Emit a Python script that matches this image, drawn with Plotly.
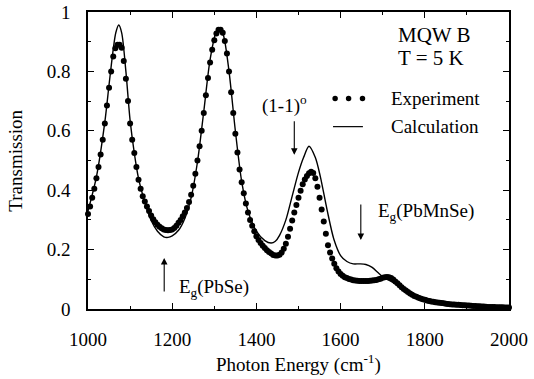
import plotly.graph_objects as go

# ---------------- data ----------------
exp_x = [1000, 1005, 1010, 1015, 1020, 1025, 1030, 1035, 1040, 1045,
         1050, 1055, 1060, 1065, 1070, 1075, 1080, 1085, 1090, 1095,
         1100, 1105, 1110, 1115, 1120, 1125, 1130, 1135, 1140, 1145,
         1150, 1155, 1160, 1165, 1170, 1175, 1180, 1185, 1190, 1195,
         1200, 1205, 1210, 1215, 1220, 1225, 1230, 1235, 1240, 1245,
         1250, 1255, 1260, 1265, 1270, 1275, 1280, 1285, 1290, 1295,
         1300, 1305, 1310, 1315, 1320, 1325, 1330, 1335, 1340, 1345,
         1350, 1355, 1360, 1365, 1370, 1375, 1380, 1385, 1390, 1395,
         1400, 1405, 1410, 1415, 1420, 1425, 1430, 1435, 1440, 1445,
         1450, 1455, 1460, 1465, 1470, 1475, 1480, 1485, 1490, 1495,
         1500, 1505, 1510, 1515, 1520, 1525, 1530, 1535, 1540, 1545,
         1550, 1555, 1560, 1565, 1570, 1575, 1580, 1585, 1590, 1595,
         1600, 1605, 1610, 1615, 1620, 1625, 1630, 1635, 1640, 1645,
         1650, 1655, 1660, 1665, 1670, 1675, 1680, 1685, 1690, 1695,
         1700, 1705, 1710, 1715, 1720, 1725, 1730, 1735, 1740, 1745,
         1750, 1755, 1760, 1765, 1770, 1775, 1780, 1785, 1790, 1795,
         1800, 1805, 1810, 1815, 1820, 1825, 1830, 1835, 1840, 1845,
         1850, 1855, 1860, 1865, 1870, 1875, 1880, 1885, 1890, 1895,
         1900, 1905, 1910, 1915, 1920, 1925, 1930, 1935, 1940, 1945,
         1950, 1955, 1960, 1965, 1970, 1975, 1980, 1985, 1990, 1995,
         2000]
exp_y = [0.320, 0.345, 0.375, 0.405, 0.440, 0.478, 0.520, 0.570, 0.625, 0.685,
         0.745, 0.800, 0.850, 0.878, 0.890, 0.890, 0.880, 0.835, 0.775, 0.700,
         0.625, 0.570, 0.525, 0.478, 0.435, 0.405, 0.380, 0.362, 0.345, 0.330,
         0.315, 0.302, 0.292, 0.284, 0.277, 0.272, 0.268, 0.266, 0.265, 0.266,
         0.268, 0.273, 0.280, 0.290, 0.300, 0.312, 0.325, 0.340, 0.360, 0.385,
         0.415, 0.455, 0.500, 0.548, 0.600, 0.660, 0.720, 0.778, 0.830, 0.873,
         0.905, 0.928, 0.940, 0.940, 0.930, 0.902, 0.860, 0.800, 0.730, 0.660,
         0.590, 0.527, 0.470, 0.427, 0.390, 0.355, 0.325, 0.300, 0.280, 0.262,
         0.245, 0.232, 0.222, 0.213, 0.205, 0.198, 0.192, 0.187, 0.182, 0.180,
         0.180, 0.183, 0.190, 0.203, 0.220, 0.243, 0.270, 0.298, 0.325, 0.350,
         0.375, 0.398, 0.420, 0.436, 0.448, 0.457, 0.462, 0.458, 0.440, 0.412,
         0.375, 0.335, 0.295, 0.253, 0.215, 0.190, 0.170, 0.152, 0.137, 0.126,
         0.118, 0.112, 0.107, 0.104, 0.101, 0.099, 0.097, 0.096, 0.095, 0.094,
         0.094, 0.094, 0.094, 0.094, 0.095, 0.096, 0.097, 0.098, 0.100, 0.102,
         0.105, 0.107, 0.108, 0.107, 0.104, 0.099, 0.093, 0.087, 0.080, 0.073,
         0.067, 0.062, 0.057, 0.052, 0.048, 0.044, 0.041, 0.038, 0.035, 0.033,
         0.031, 0.029, 0.027, 0.025, 0.024, 0.023, 0.022, 0.021, 0.020, 0.019,
         0.018, 0.017, 0.016, 0.0155, 0.015, 0.0145, 0.014, 0.0135, 0.013, 0.0125,
         0.012, 0.0115, 0.011, 0.0105, 0.010, 0.0095, 0.009, 0.0085, 0.008, 0.0075,
         0.007, 0.007, 0.007, 0.0065, 0.006, 0.006, 0.006, 0.0055, 0.005, 0.005,
         0.005]

calc_x = [1000, 1020, 1040, 1050, 1060, 1066, 1073, 1080, 1090, 1100,
          1110, 1120, 1135, 1150, 1165, 1180, 1190, 1200, 1215, 1230,
          1245, 1260, 1275, 1290, 1305, 1313, 1322, 1335, 1350, 1365,
          1380, 1400, 1420, 1435, 1445, 1455, 1470, 1485, 1500, 1512,
          1525, 1540, 1552, 1568, 1584, 1600, 1615, 1630, 1645, 1660,
          1675, 1690, 1705, 1720, 1740, 1760, 1780, 1800, 1830, 1860,
          1900, 1950, 2000]
calc_y = [0.330, 0.445, 0.630, 0.755, 0.875, 0.930, 0.956, 0.930, 0.800, 0.635,
          0.525, 0.440, 0.360, 0.298, 0.262, 0.243, 0.241, 0.246, 0.265, 0.305,
          0.375, 0.495, 0.665, 0.840, 0.935, 0.945, 0.920, 0.800, 0.600, 0.430,
          0.330, 0.262, 0.230, 0.222, 0.228, 0.248, 0.300, 0.380, 0.460, 0.510,
          0.548, 0.510, 0.445, 0.333, 0.235, 0.180, 0.160, 0.152, 0.152, 0.150,
          0.140, 0.121, 0.104, 0.093, 0.077, 0.060, 0.047, 0.037, 0.027, 0.019,
          0.013, 0.008, 0.005]

x_ticks = [1000, 1200, 1400, 1600, 1800, 2000]
x_minor = [1100, 1300, 1500, 1700, 1900]
y_ticks = [0, 0.2, 0.4, 0.6, 0.8, 1.0]
y_ticktext = ["0", "0.2", "0.4", "0.6", "0.8", "1"]
y_minor = [0.1, 0.3, 0.5, 0.7, 0.9]

FONT = "Times New Roman, Liberation Serif, serif"
FS = 19

fig = go.Figure()
fig.add_trace(go.Scatter(x=calc_x, y=calc_y, mode="lines",
                         line=dict(color="black", width=1.4, shape="spline", smoothing=0.8),
                         name="Calculation", showlegend=False))
fig.add_trace(go.Scatter(x=exp_x, y=exp_y, mode="markers",
                         marker=dict(color="black", size=6),
                         cliponaxis=False,
                         name="Experiment", showlegend=False))

axis_common = dict(showline=True, linecolor="black", linewidth=1.5, mirror="ticks",
                   ticks="inside", ticklen=6, tickwidth=1.2, tickcolor="black",
                   showgrid=False, zeroline=False, automargin=False,
                   tickfont=dict(family=FONT, size=FS, color="black"))

fig.update_xaxes(range=[1000, 2000], tickmode="array", tickvals=x_ticks,
                 minor=dict(tickmode="array", tickvals=x_minor, ticks="inside",
                            ticklen=3, tickcolor="black", tickwidth=1),
                 ticklabelstandoff=12, **axis_common)
fig.update_yaxes(range=[0, 1], tickmode="array", tickvals=y_ticks, ticktext=y_ticktext,
                 minor=dict(tickmode="array", tickvals=y_minor, ticks="inside",
                            ticklen=3, tickcolor="black", tickwidth=1),
                 ticklabelstandoff=12, **axis_common)

tf = dict(family=FONT, size=FS, color="black")
tf_big = dict(family=FONT, size=21, color="black")
ann = []
# axis titles
ann.append(dict(text="Photon Energy (cm<sup>-1</sup>)", xref="paper", yref="paper",
                x=0.5, y=-0.185, xanchor="center", yanchor="middle", showarrow=False, font=tf))
ann.append(dict(text="Transmission", xref="paper", yref="paper", textangle=-90,
                x=-0.173, y=0.5, xanchor="center", yanchor="middle", showarrow=False, font=tf))
# labels
ann.append(dict(text="MQW B", xref="paper", yref="paper", x=0.823, y=0.923,
                xanchor="center", yanchor="middle", showarrow=False, font=tf_big))
ann.append(dict(text="T = 5 K", xref="paper", yref="paper", x=0.815, y=0.844,
                xanchor="center", yanchor="middle", showarrow=False, font=tf_big))
ann.append(dict(text="(1-1)<sup>o</sup>", xref="paper", yref="paper", x=0.466, y=0.69,
                xanchor="center", yanchor="middle", showarrow=False, font=tf))
ann.append(dict(text="Experiment", xref="paper", yref="paper", x=0.715, y=0.709,
                xanchor="left", yanchor="middle", showarrow=False, font=tf))
ann.append(dict(text="Calculation", xref="paper", yref="paper", x=0.715, y=0.614,
                xanchor="left", yanchor="middle", showarrow=False, font=tf))
ann.append(dict(text="E<sub>g</sub>(PbSe)", xref="paper", yref="paper", x=0.211, y=0.07,
                xanchor="left", yanchor="middle", showarrow=False, font=tf))
ann.append(dict(text="E<sub>g</sub>(PbMnSe)", xref="paper", yref="paper", x=0.684, y=0.325,
                xanchor="left", yanchor="middle", showarrow=False, font=tf))
# arrows
for (ax_, ay_, dy) in [(1490, 0.519, -35), (1181, 0.172, 35), (1648, 0.232, -37)]:
    ann.append(dict(x=ax_, y=ay_, xref="x", yref="y", text="", showarrow=True,
                    ax=0, ay=dy, arrowhead=2, arrowsize=1.2, arrowwidth=1.1,
                    arrowcolor="black"))

shapes = []
for cx in [0.587, 0.619, 0.652]:
    shapes.append(dict(type="circle", xref="paper", yref="paper",
                       x0=cx - 0.0065, x1=cx + 0.0065, y0=0.709 - 0.0092, y1=0.709 + 0.0092,
                       fillcolor="black", line=dict(width=0)))
shapes.append(dict(type="line", xref="paper", yref="paper", x0=0.582, x1=0.653,
                   y0=0.614, y1=0.614, line=dict(color="black", width=1.2)))

fig.update_layout(width=534, height=379, margin=dict(l=88, r=25, t=12, b=70),
                  plot_bgcolor="white", paper_bgcolor="white",
                  annotations=ann, shapes=shapes, showlegend=False,
                  font=dict(family=FONT, size=FS, color="black"))

fig.write_html("out.html")
